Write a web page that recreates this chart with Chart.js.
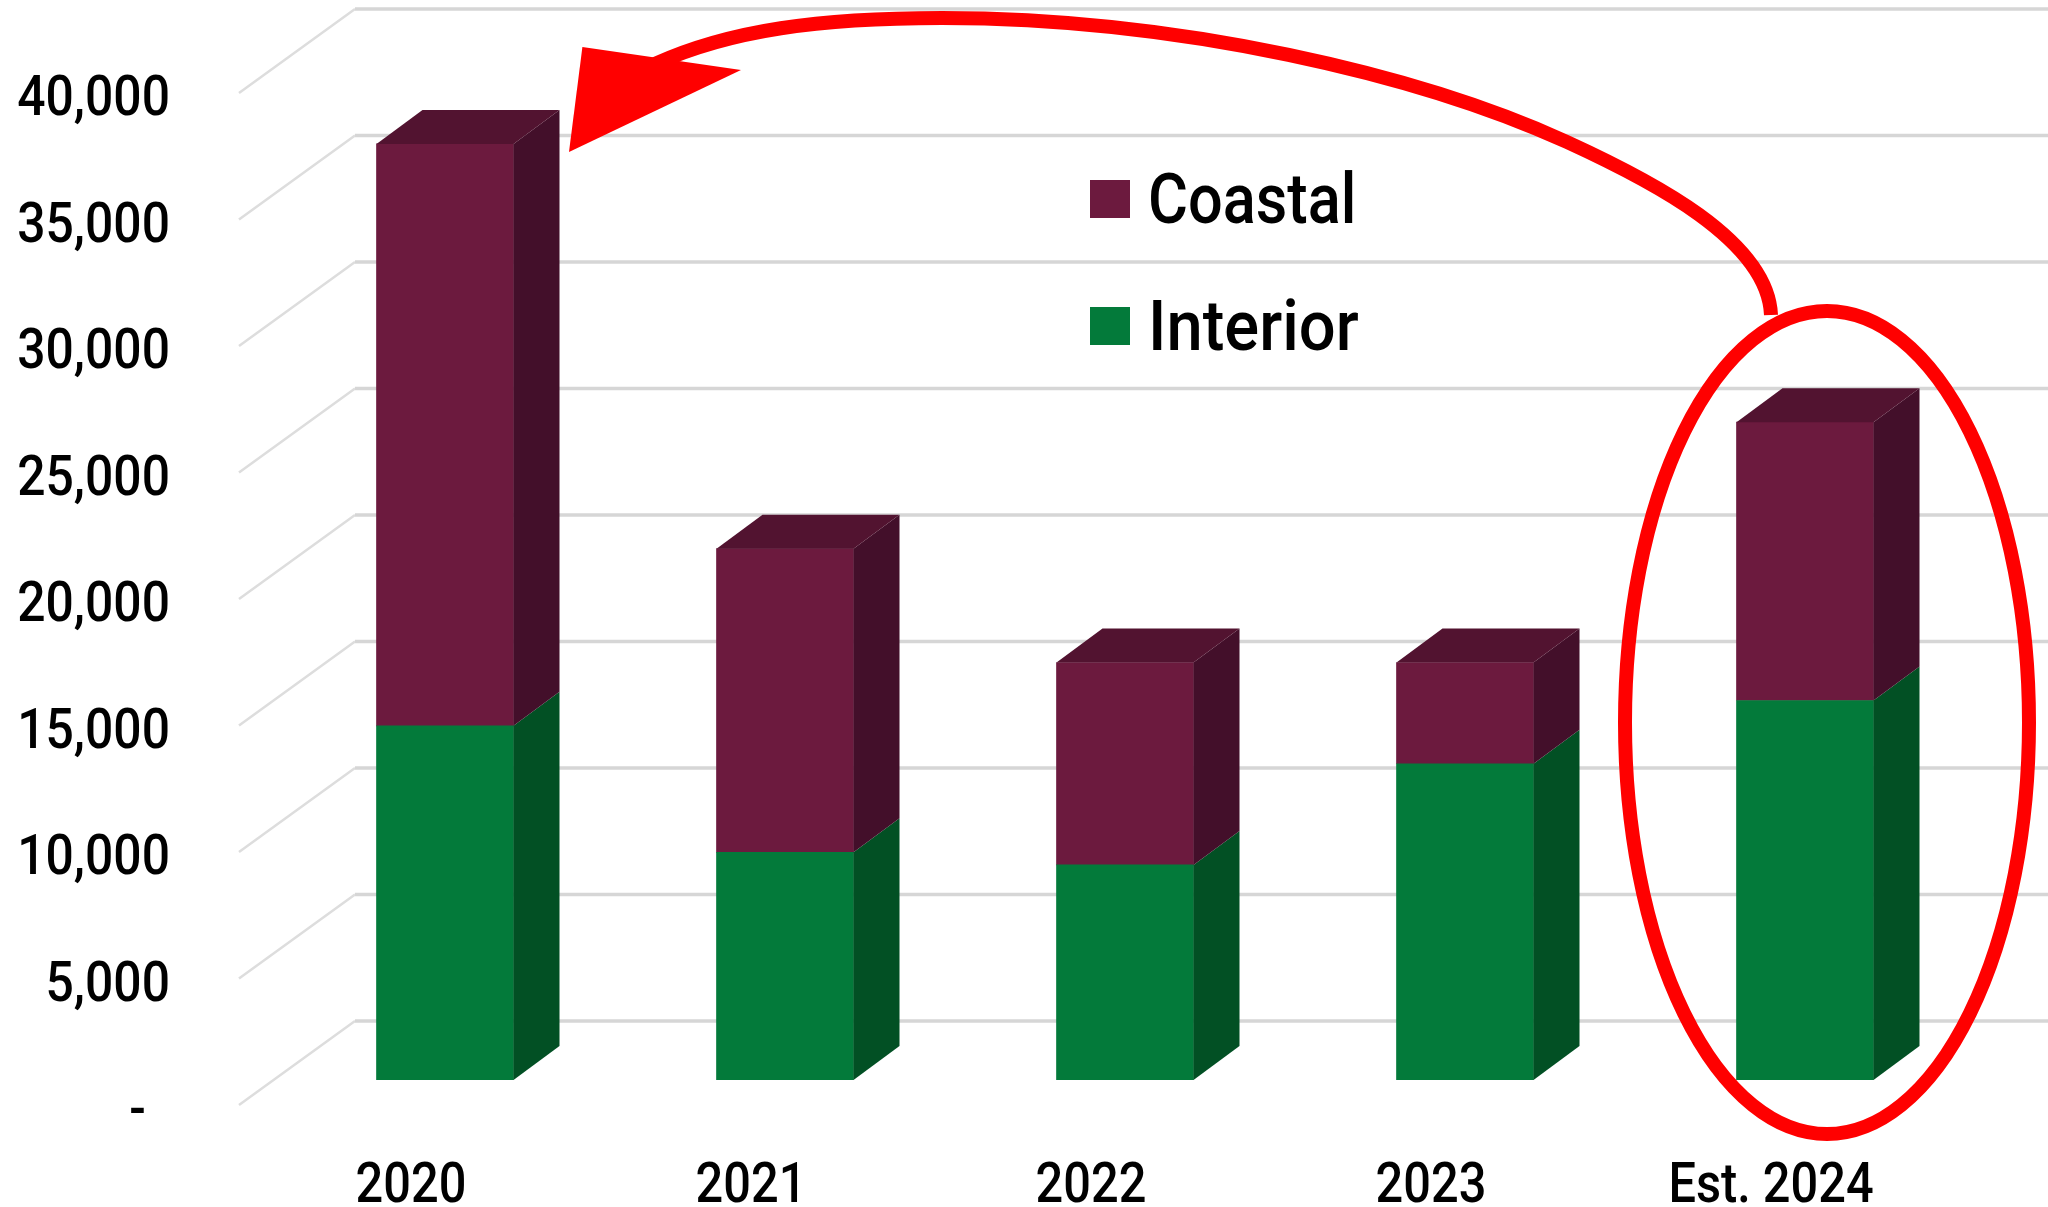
<!DOCTYPE html>
<html>
<head>
<meta charset="utf-8">
<style>html,body{margin:0;padding:0;background:#fff;overflow:hidden}#w{width:2048px;height:1207px;position:relative}</style>
<script src="https://cdn.jsdelivr.net/npm/chart.js@4"></script>
</head>
<body>
<div id="w"><canvas id="c" width="2048" height="1207"></canvas></div>
<script>
const categories = ['2020', '2021', '2022', '2023', 'Est. 2024'];
const interior = [14000, 9000, 8500, 12500, 15000];
const coastal = [23000, 12000, 8000, 4000, 11000];
const yTicks = [0, 5000, 10000, 15000, 20000, 25000, 30000, 35000, 40000];

const FONT = 'Roboto, sans-serif';
const COL = {
  coastal: { front: '#6c1a3e', side: '#430f2a', top: '#521330' },
  interior: { front: '#037a3a', side: '#025024', top: '#026030' }
};
const DEPTH = { dx: 46, dy: 34 };
const WALL = { dx: 80, dy: 59, tipDx: 36, tipDy: 25 };

const canvas = document.getElementById('c');
const rawCtx = canvas.getContext('2d');
const rawFill = rawCtx.fillText.bind(rawCtx);
function condense(t) {
  if (t === 'Interior') return 0.93;
  if (t === 'Coastal') return 0.875;
  return t.includes(',') ? 0.89 : 0.87;
}
rawCtx.fillText = function (t, x, y) {
  rawFill(t, x, y, rawCtx.measureText(t).width * condense(t));
};

function swatch(color) {
  const c = document.createElement('canvas');
  c.width = 40; c.height = 50;
  const g = c.getContext('2d');
  g.fillStyle = color; g.fillRect(0, 0, 40, 38);
  return c;
}
const swatches = [swatch(COL.interior.front), swatch(COL.coastal.front)];

const wallGrid = {
  id: 'wallGrid',
  beforeDatasetsDraw(chart) {
    const { ctx, scales: { y }, chartArea: a } = chart;
    ctx.save();
    yTicks.forEach(v => {
      const py = y.getPixelForValue(v);
      ctx.strokeStyle = '#dddddd';
      ctx.lineWidth = 2.5;
      ctx.beginPath();
      ctx.moveTo(a.left - WALL.tipDx, py + WALL.tipDy);
      ctx.lineTo(a.left + WALL.dx, py - WALL.dy);
      ctx.stroke();
      ctx.strokeStyle = '#d6d6d6';
      ctx.lineWidth = 3.5;
      ctx.beginPath();
      ctx.moveTo(a.left + WALL.dx, py - WALL.dy);
      ctx.lineTo(chart.width, py - WALL.dy);
      ctx.stroke();
    });
    ctx.restore();
  }
};

const bars3d = {
  id: 'bars3d',
  afterDatasetsDraw(chart) {
    const { ctx } = chart;
    const keys = ['interior', 'coastal'];
    ctx.save();
    chart.data.datasets.forEach((ds, i) => {
      const pal = COL[keys[i]];
      chart.getDatasetMeta(i).data.forEach(b => {
        const r = b.x + b.width / 2, l = b.x - b.width / 2;
        ctx.fillStyle = pal.side;
        ctx.beginPath();
        ctx.moveTo(r, b.y);
        ctx.lineTo(r + DEPTH.dx, b.y - DEPTH.dy);
        ctx.lineTo(r + DEPTH.dx, b.base - DEPTH.dy);
        ctx.lineTo(r, b.base);
        ctx.closePath();
        ctx.fill();
        if (i === chart.data.datasets.length - 1) {
          ctx.fillStyle = pal.top;
          ctx.beginPath();
          ctx.moveTo(l, b.y);
          ctx.lineTo(l + DEPTH.dx, b.y - DEPTH.dy);
          ctx.lineTo(r + DEPTH.dx, b.y - DEPTH.dy);
          ctx.lineTo(r, b.y);
          ctx.closePath();
          ctx.fill();
        }
      });
    });
    ctx.restore();
  }
};

const placeLegend = {
  id: 'placeLegend',
  afterLayout(chart) {
    const l = chart.legend;
    const w = l.width, h = l.height;
    l.left = 1050; l.top = 113; l.right = l.left + w; l.bottom = l.top + h;
  }
};

const callout = {
  id: 'callout',
  afterDraw(chart) {
    const { ctx } = chart;
    ctx.save();
    ctx.strokeStyle = '#ff0000';
    ctx.fillStyle = '#ff0000';
    ctx.lineWidth = 14;
    ctx.lineCap = 'butt';
    ctx.beginPath();
    ctx.moveTo(1771, 315);
    ctx.bezierCurveTo(1768, 240, 1650, 180, 1567, 142);
    ctx.bezierCurveTo(1420, 75, 1180, 18, 942, 18);
    ctx.bezierCurveTo(820, 18, 730, 30, 655, 64);
    ctx.stroke();
    ctx.beginPath();
    ctx.moveTo(582.4, 47);
    ctx.lineTo(741, 70);
    ctx.lineTo(569, 152);
    ctx.closePath();
    ctx.fill();
    ctx.beginPath();
    ctx.ellipse(1827, 722.5, 202, 411.5, 0, 0, Math.PI * 2);
    ctx.stroke();
    ctx.restore();
  }
};

new Chart(canvas, {
  type: 'bar',
  data: {
    labels: categories,
    datasets: [
      { label: 'Interior', data: interior, backgroundColor: COL.interior.front, barThickness: 137, stack: 's' },
      { label: 'Coastal', data: coastal, backgroundColor: COL.coastal.front, barThickness: 137, stack: 's' }
    ]
  },
  options: {
    responsive: false,
    animation: false,
    devicePixelRatio: 1,
    layout: { padding: { top: 68, right: 73, left: 0, bottom: 0 } },
    scales: {
      x: {
        stacked: true,
        grid: { display: false, drawTicks: false },
        border: { display: false },
        afterFit(s) { s.height = 127; s.paddingLeft = 0; s.paddingRight = 0; },
        ticks: {
          color: '#000',
          font: { family: FONT, size: 56, weight: '500' },
          padding: 74,
          labelOffset: -34,
          maxRotation: 0,
          autoSkip: false
        }
      },
      y: {
        stacked: true,
        min: 0,
        max: 40000,
        grid: { display: false, drawTicks: false },
        border: { display: false },
        afterFit(s) { s.width = 275; s.paddingTop = 0; s.paddingBottom = 0; },
        afterBuildTicks(s) { s.ticks = yTicks.map(v => ({ value: v })); },
        ticks: {
          color: '#000',
          font: { family: FONT, size: 56, weight: '500' },
          padding: 105,
          labelOffset: 33,
          callback: v => v === 0 ? '-  ' : v.toLocaleString('en-US')
        }
      }
    },
    plugins: {
      title: { display: false },
      tooltip: { enabled: false },
      legend: {
        position: 'chartArea',
        fullSize: false,
        align: 'start',
        reverse: true,
        labels: {
          color: '#000',
          font: { family: FONT, size: 70, weight: '500' },
          usePointStyle: true,
          pointStyleWidth: 6,
          padding: 57,
          generateLabels(chart) {
            return Chart.defaults.plugins.legend.labels.generateLabels(chart)
              .map(it => ({ ...it, pointStyle: swatches[it.datasetIndex] }));
          }
        }
      }
    }
  },
  plugins: [wallGrid, bars3d, placeLegend, callout]
});
</script>
</body>
</html>
